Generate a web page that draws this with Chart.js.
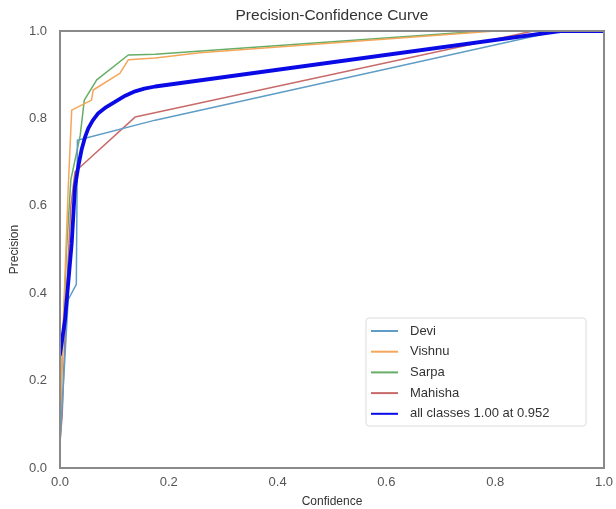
<!DOCTYPE html>
<html>
<head>
<meta charset="utf-8">
<script src="https://cdn.jsdelivr.net/npm/chart.js@4.4.1/dist/chart.umd.min.js"></script>
<style>
  html, body { margin: 0; padding: 0; background: #fff; }
  #wrap { width: 616px; height: 509px; }
</style>
</head>
<body>
<div id="wrap"><canvas id="pc-chart"></canvas></div>
<script>
// Valores (confianza -> precision)
const seriesLabels = ['Devi', 'Vishnu', 'Sarpa', 'Mahisha', 'all classes 1.00 at 0.952'];

const deviConf = [0.0, 0.015, 0.030, 0.032, 0.175, 0.915, 1.0];
const deviPrec = [0.055, 0.385, 0.42, 0.75, 0.796, 1.0, 1.0];

const vishnuConf = [0.0, 0.005, 0.015, 0.0215, 0.058, 0.061, 0.110, 0.1255, 0.175, 0.257, 0.80, 1.0];
const vishnuPrec = [0.08, 0.30, 0.636, 0.819, 0.842, 0.865, 0.903, 0.934, 0.938, 0.95, 1.0, 1.0];

const sarpaConf = [0.0, 0.004, 0.012, 0.020, 0.037, 0.0447, 0.0675, 0.1255, 0.175, 0.78, 1.0];
const sarpaPrec = [0.07, 0.25, 0.50, 0.66, 0.76, 0.842, 0.888, 0.945, 0.947, 1.0, 1.0];

const mahishaConf = [0.0, 0.004, 0.012, 0.020, 0.0276, 0.138, 0.87, 1.0];
const mahishaPrec = [0.06, 0.12, 0.40, 0.60, 0.678, 0.803, 1.0, 1.0];

const allConf = [0.0, 0.0092, 0.0215, 0.0276, 0.0336, 0.040, 0.046, 0.052, 0.060, 0.0704,
                 0.085, 0.101, 0.120, 0.138, 0.155, 0.175, 0.92, 1.0];
const allPrec = [0.26, 0.339, 0.514, 0.644, 0.69, 0.73, 0.757, 0.777, 0.795, 0.812,
                 0.826, 0.838, 0.852, 0.862, 0.868, 0.873, 1.0, 1.0];

const xTicks = [0.0, 0.2, 0.4, 0.6, 0.8, 1.0];
const yTicks = [0.0, 0.2, 0.4, 0.6, 0.8, 1.0];

function toPoints(xs, ys) {
    return xs.map((x, i) => ({ x: x, y: ys[i] }));
}

const colors = ['#5f9cc6', '#f4a65a', '#66ad66', '#c96a6a', '#0a0ae6'];
const widths = [1.5, 1.5, 1.5, 1.5, 3.8];
const allData = [
    toPoints(deviConf, deviPrec),
    toPoints(vishnuConf, vishnuPrec),
    toPoints(sarpaConf, sarpaPrec),
    toPoints(mahishaConf, mahishaPrec),
    toPoints(allConf, allPrec)
];

const FONT = '"Liberation Sans", Arial, sans-serif';

// Marco gris alrededor del area del grafico
const framePlugin = {
    id: 'frame',
    afterDatasetsDraw(chart) {
        const a = chart.chartArea;
        const ctx = chart.ctx;
        ctx.save();
        ctx.strokeStyle = '#8a8a8a';
        ctx.lineWidth = 2;
        ctx.strokeRect(a.left, a.top, a.right - a.left, a.bottom - a.top);
        ctx.restore();
    }
};

// Leyenda dentro del grafico, abajo a la derecha
const insideLegend = {
    id: 'insideLegend',
    afterDraw(chart) {
        const a = chart.chartArea;
        const ctx = chart.ctx;
        const boxW = 220, boxH = 108;
        const x0 = a.right - 18 - boxW;
        const y0 = a.bottom - 42 - boxH;
        ctx.save();
        ctx.fillStyle = 'rgba(255,255,255,0.9)';
        ctx.strokeStyle = '#dcdcdc';
        ctx.lineWidth = 1;
        ctx.beginPath();
        ctx.roundRect(x0, y0, boxW, boxH, 3);
        ctx.fill();
        ctx.stroke();
        ctx.font = '13px ' + FONT;
        ctx.fillStyle = '#333';
        ctx.textBaseline = 'middle';
        chart.data.datasets.forEach((ds, i) => {
            const y = y0 + 13 + i * 20.7;
            ctx.strokeStyle = ds.borderColor;
            ctx.lineWidth = 2;
            ctx.beginPath();
            ctx.moveTo(x0 + 5, y);
            ctx.lineTo(x0 + 32, y);
            ctx.stroke();
            ctx.fillText(ds.label, x0 + 44, y);
        });
        ctx.restore();
    }
};

const ctx = document.getElementById('pc-chart').getContext('2d');
new Chart(ctx, {
    type: 'scatter',
    data: {
        datasets: allData.map((pts, i) => ({
            label: seriesLabels[i],
            data: pts,
            showLine: true,
            borderColor: colors[i],
            backgroundColor: colors[i],
            borderWidth: widths[i],
            pointRadius: 0,
            tension: 0,
            borderJoinStyle: 'round',
            borderCapStyle: 'round',
            order: i === 4 ? 0 : 1
        }))
    },
    options: {
        responsive: true,
        maintainAspectRatio: false,
        animation: false,
        layout: { padding: { left: 0, right: 12, top: 0, bottom: 0 } },
        plugins: {
            legend: { display: false },
            tooltip: { enabled: false },
            title: {
                display: true,
                fullSize: false,
                text: 'Precision-Confidence Curve',
                color: '#333',
                font: { family: FONT, size: 15.5, weight: 'normal' },
                padding: { top: 6, bottom: 6.4 }
            }
        },
        scales: {
            x: {
                type: 'linear',
                min: 0,
                max: 1,
                afterFit: s => { s.height = 41; s.paddingRight = 0; s.paddingLeft = 0; },
                afterBuildTicks: s => { s.ticks = xTicks.map(v => ({ value: v })); },
                grid: { display: false, drawTicks: false },
                border: { display: false },
                ticks: {
                    padding: 7,
                    color: '#555',
                    font: { family: FONT, size: 13 },
                    callback: v => v.toFixed(1)
                },
                title: {
                    display: true,
                    text: 'Confidence',
                    color: '#333',
                    font: { family: FONT, size: 12 },
                    padding: { top: 1, bottom: 0 }
                }
            },
            y: {
                type: 'linear',
                min: 0,
                max: 1,
                afterFit: s => { s.width = 60; },
                afterBuildTicks: s => { s.ticks = yTicks.map(v => ({ value: v })); },
                grid: { display: false, drawTicks: false },
                border: { display: false },
                ticks: {
                    padding: 13,
                    color: '#555',
                    font: { family: FONT, size: 13 },
                    callback: v => v.toFixed(1)
                },
                title: {
                    display: true,
                    text: 'Precision',
                    color: '#333',
                    font: { family: FONT, size: 12 },
                    padding: { top: 7, bottom: 0 }
                }
            }
        }
    },
    plugins: [framePlugin, insideLegend]
});
</script>
</body>
</html>
